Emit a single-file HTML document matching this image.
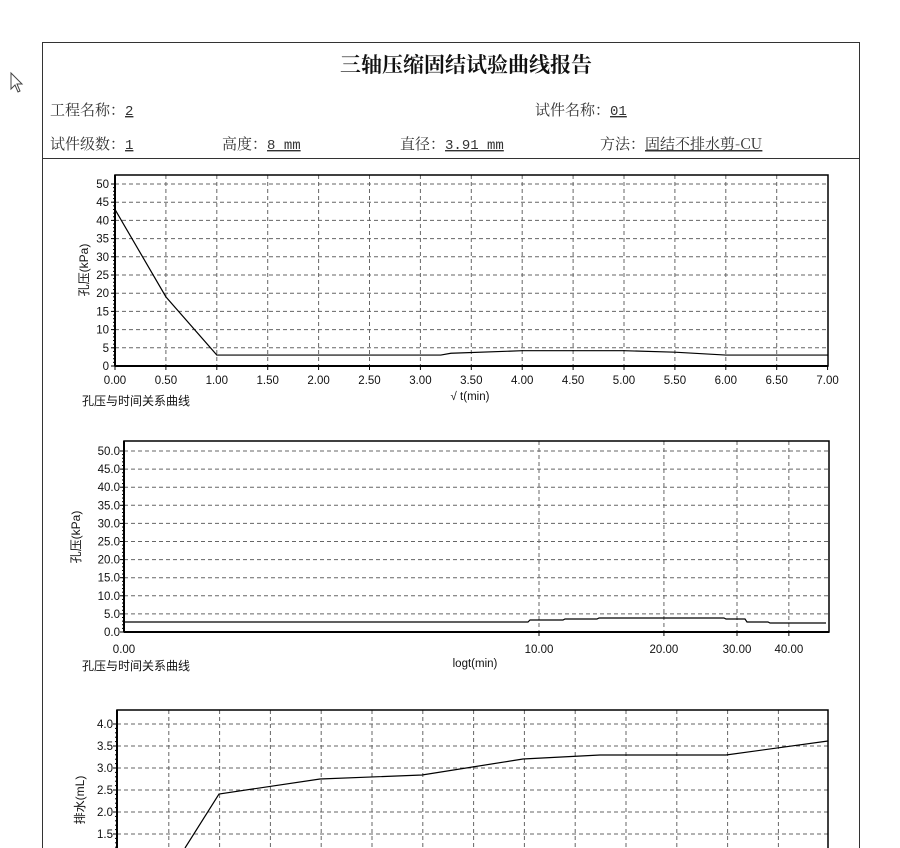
<!DOCTYPE html>
<html><head><meta charset="utf-8">
<style>
html,body{margin:0;padding:0;background:#fff;width:900px;height:848px;overflow:hidden}
svg{display:block}
.h{font-family:"Noto Serif CJK SC","Liberation Serif",serif;font-size:15px;fill:#333}
.v{font-family:"Liberation Mono",monospace;font-size:14px}
.t{font-family:"Liberation Sans",sans-serif;font-size:11.5px;fill:#111}
.c{font-family:"Liberation Sans","Noto Sans CJK SC",sans-serif;font-size:12px;fill:#111}
</style></head><body>
<svg id="s" width="900" height="848" xmlns="http://www.w3.org/2000/svg" style="overflow:hidden">
<rect x="0" y="0" width="900" height="848" fill="#fff"/>
<path d="M11 73 L11 89 L15 85 L18 92 L20 91 L17 84 L22 84 Z" fill="#fff" stroke="#444" stroke-width="1"/>
<path d="M42.5 848 L42.5 42.5 L859.5 42.5 L859.5 848" fill="none" stroke="#333" stroke-width="1"/>
<line x1="42" y1="158.5" x2="860" y2="158.5" stroke="#333"/>
<text x="466" y="72" text-anchor="middle" style="font-family:'Noto Serif CJK SC','Liberation Serif',serif;font-size:21px;font-weight:bold;fill:#111">三轴压缩固结试验曲线报告</text>
<text class="h" x="50" y="115">工程名称：<tspan class="v" text-decoration="underline">2</tspan></text>
<text class="h" x="535" y="115">试件名称：<tspan class="v" text-decoration="underline">01</tspan></text>
<text class="h" x="50" y="149">试件级数：<tspan class="v" text-decoration="underline">1</tspan></text>
<text class="h" x="222" y="149">高度：<tspan class="v" text-decoration="underline">8 mm</tspan></text>
<text class="h" x="400" y="149">直径：<tspan class="v" text-decoration="underline">3.91 mm</tspan></text>
<text class="h" x="600" y="149">方法：<tspan text-decoration="underline">固结不排水剪-CU</tspan></text>
<g id="g"></g>
</svg>
<script>
var g=document.getElementById('g'),o='';
function L(x1,y1,x2,y2,st){o+='<line x1="'+x1+'" y1="'+y1+'" x2="'+x2+'" y2="'+y2+'" '+st+'/>';}
function T(x,y,s,cls,anc){o+='<text class="'+(cls||'t')+'" x="'+x+'" y="'+y+'" text-anchor="'+(anc||'middle')+'">'+s+'</text>';}
var dash='stroke="#666" stroke-width="1" stroke-dasharray="4,3"';
// Chart 1
var L1=115,R1=828,T1=175,B1=366,px=101.8,py=3.64;
for(var i=1;i<=10;i++){var y=B1-i*5*py;L(L1,y,R1,y,dash);}
for(var i=1;i<14;i++){var x=L1+i*px/2;L(x,T1,x,B1,dash);}
for(var i=0;i<=10;i++){var y=B1-i*5*py;L(L1-4,y,L1,y,'stroke="#000"');T(L1-6,y+4,String(i*5),'t','end');}
for(var i=0;i<=50;i++){var y=B1-i*py;L(L1-2,y,L1,y,'stroke="#000"');}
for(var i=0;i<=14;i++){var x=L1+i*px/2;L(x,B1,x,B1+4,'stroke="#000"');T(x,B1+18,(i/2).toFixed(2));}
o+='<rect x="'+L1+'" y="'+T1+'" width="'+(R1-L1)+'" height="'+(B1-T1)+'" fill="none" stroke="#000" stroke-width="1.5"/>';
L(L1,T1,L1,B1,'stroke="#000" stroke-width="2"');L(L1,B1,R1,B1,'stroke="#000" stroke-width="2"');
var d1=[[0,43],[0.5,19],[1,3],[3.2,3],[3.3,3.5],[4,4.2],[5,4.2],[5.5,3.8],[6,3],[7,3]];
o+='<polyline fill="none" stroke="#000" stroke-width="1.2" points="'+d1.map(function(p){return (L1+p[0]*px)+','+(B1-p[1]*py)}).join(' ')+'"/>';
T(82,405,'孔压与时间关系曲线','c','start');T(470,400,'√ t(min)');
o+='<text class="c" transform="translate(88,270) rotate(-90)" text-anchor="middle">孔压(kPa)</text>';
// Chart 2
var L2=124,R2=829,T2=441,B2=632,py2=3.62,dec=415;
for(var i=1;i<=10;i++){var y=B2-i*5*py2;L(L2,y,R2,y,dash);}
[10,20,30,40].forEach(function(v){var x=L2+Math.log10(v)*dec;L(x,T2,x,B2,dash);L(x,B2,x,B2+4,'stroke="#000"');T(x,B2+21,v.toFixed(2));});
T(L2,B2+21,'0.00');
for(var i=0;i<=10;i++){var y=B2-i*5*py2;L(L2-4,y,L2,y,'stroke="#000"');T(L2-4,y+4,(i*5).toFixed(1),'t','end');}
for(var i=0;i<=50;i++){var y=B2-i*py2;L(L2-2,y,L2,y,'stroke="#000"');}
o+='<rect x="'+L2+'" y="'+T2+'" width="'+(R2-L2)+'" height="'+(B2-T2)+'" fill="none" stroke="#000" stroke-width="1.5"/>';
L(L2,T2,L2,B2,'stroke="#000" stroke-width="2"');L(L2,B2,R2,B2,'stroke="#000" stroke-width="2"');
o+='<polyline fill="none" stroke="#000" stroke-width="1.2" points="'+L2+',622 528,622 530,620 563,620 565,619 597,619 599,618 724,618 726,619 745,619 747,622 768,622 770,623 826,623"/>';
T(82,670,'孔压与时间关系曲线','c','start');T(475,667,'logt(min)');
o+='<text class="c" transform="translate(80,537) rotate(-90)" text-anchor="middle">孔压(kPa)</text>';
// Chart 3
var L3=117,R3=828,T3=710,B3=900,py3=44;
[4,3.5,3,2.5,2,1.5,1].forEach(function(v){var y=B3-v*py3;L(L3,y,R3,y,dash);L(L3-4,y,L3,y,'stroke="#000"');T(L3-4,y+4,v.toFixed(1),'t','end');});
for(var i=0;i<=40;i++){var y=B3-i*0.1*py3;L(L3-2,y,L3,y,'stroke="#000"');}
for(var i=1;i<14;i++){var x=L3+1+i*50.8;L(x,T3,x,848,dash);}
o+='<path d="M'+L3+' 848 L'+L3+' '+T3+' L'+R3+' '+T3+' L'+R3+' 848" fill="none" stroke="#000" stroke-width="1.5"/>';
L(L3,T3,L3,848,'stroke="#000" stroke-width="2"');
o+='<polyline fill="none" stroke="#000" stroke-width="1.2" points="185,848 219,794 320,779 422,775 523,759 600,755 726,755 828,741"/>';
o+='<text class="c" transform="translate(84,800) rotate(-90)" text-anchor="middle">排水(mL)</text>';
g.innerHTML=o;
</script>
</body></html>
